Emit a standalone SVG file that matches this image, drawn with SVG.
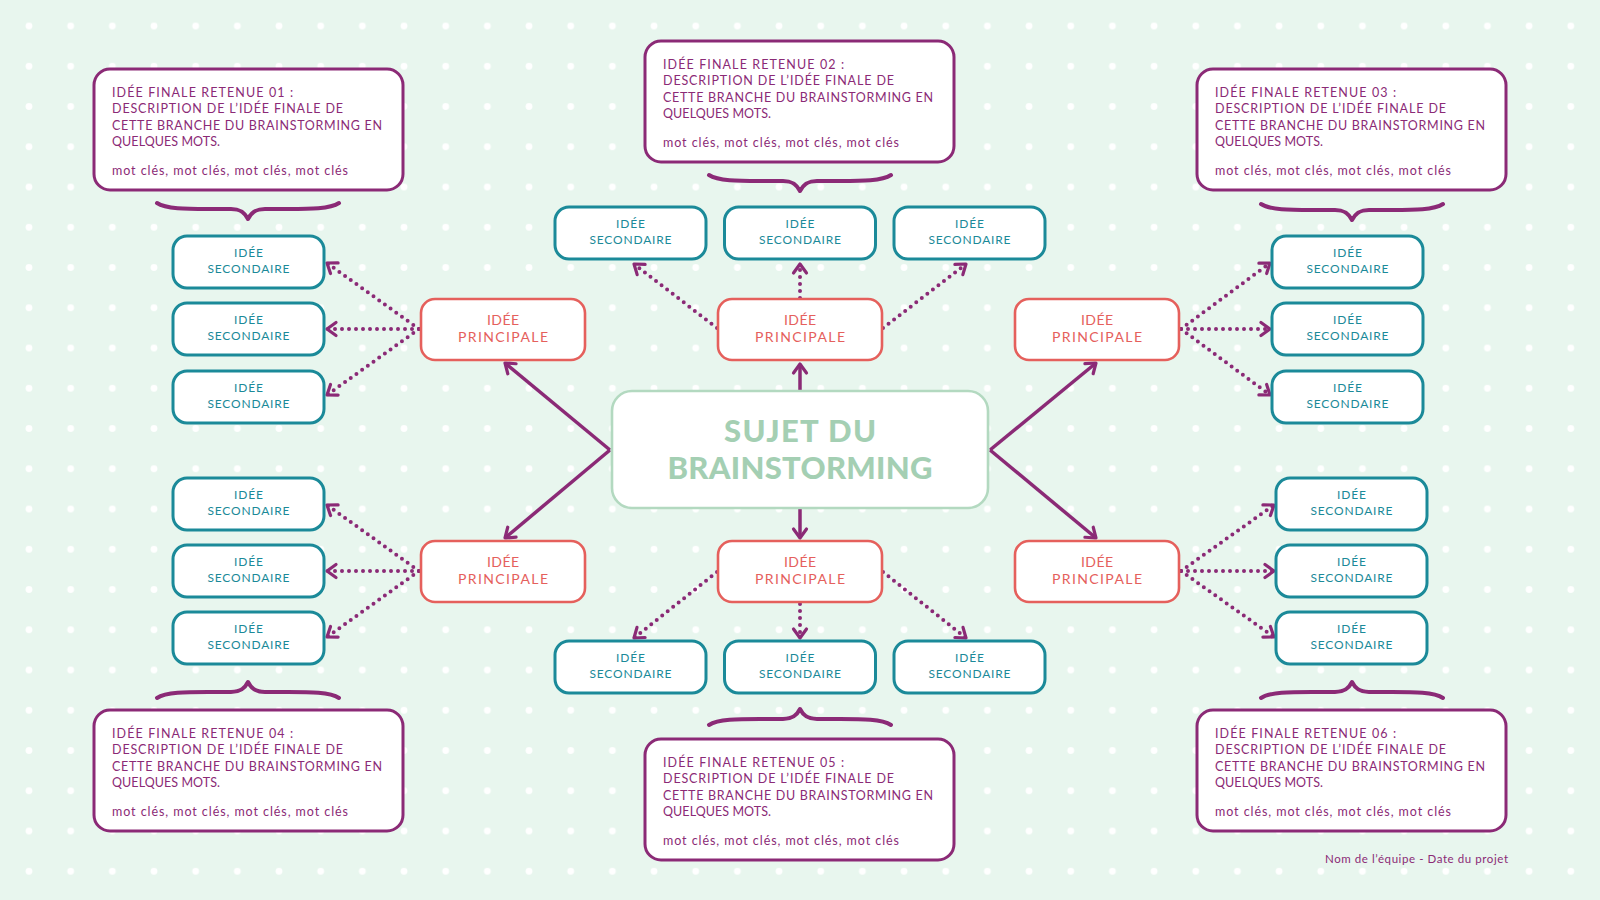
<svg xmlns="http://www.w3.org/2000/svg" width="1600" height="900" viewBox="0 0 1600 900">
<defs>
<pattern id="dots" x="8.2" y="5.9" width="41.67" height="40.25" patternUnits="userSpaceOnUse">
<circle cx="20.8" cy="20.1" r="3.4" fill="#ffffff"/>
</pattern>
<marker id="arr" viewBox="-12 -9 15 18" markerWidth="15" markerHeight="18" refX="0" refY="0" orient="auto" markerUnits="userSpaceOnUse">
<path d="M-9,-6.5 L0,0 L-9,6.5" fill="none" stroke="#8b2a76" stroke-width="3.2" stroke-linecap="round" stroke-linejoin="round"/>
</marker>
<path id="brace" d="M-91,0 C-82,6 -62,6 -40,6 L-17,6 C-7,6 -3,10 0,16 C3,10 7,6 17,6 L40,6 C62,6 82,6 91,0"/>
</defs>
<style>
.final rect{fill:#ffffff;stroke:#8b2a76;stroke-width:3}
.final text{font-family:"Lato","Liberation Sans",sans-serif;font-size:12.5px;fill:#8b2a76}
.sec rect{fill:#ffffff;stroke:#1b8a99;stroke-width:3}
.sec text{font-family:"Lato","Liberation Sans",sans-serif;font-size:12px;fill:#1b8a99;text-anchor:middle}
.pri rect{fill:#ffffff;stroke:#e5605c;stroke-width:2.6}
.pri text{font-family:"Lato","Liberation Sans",sans-serif;font-size:14px;fill:#e5605c;text-anchor:middle}
.solid{stroke:#8b2a76;stroke-width:3.5;fill:none;marker-end:url(#arr)}
.dot{stroke:#8b2a76;stroke-width:4;fill:none;stroke-dasharray:0 7;stroke-linecap:round;marker-end:url(#arr)}
.brace{fill:none;stroke:#8b2a76;stroke-width:4;stroke-linecap:round;stroke-linejoin:round}
</style>
<rect width="1600" height="900" fill="#e8f6ee"/>
<rect width="1600" height="900" fill="url(#dots)"/>

<g id="connectors">
<line class="solid" x1="610" y1="450" x2="505" y2="363"/>
<line class="solid" x1="610" y1="450" x2="505" y2="538"/>
<line class="solid" x1="990" y1="450" x2="1096" y2="363"/>
<line class="solid" x1="990" y1="450" x2="1096" y2="538"/>
<line class="solid" x1="800" y1="391" x2="800" y2="364"/>
<line class="solid" x1="800" y1="508" x2="800" y2="538"/>
<line class="dot" x1="419" y1="329" x2="327" y2="263"/>
<line class="dot" x1="419" y1="329" x2="327" y2="329"/>
<line class="dot" x1="419" y1="329" x2="327" y2="395"/>
<line class="dot" x1="419" y1="571" x2="327" y2="505"/>
<line class="dot" x1="419" y1="571" x2="327" y2="571"/>
<line class="dot" x1="419" y1="571" x2="327" y2="637"/>
<line class="dot" x1="717" y1="328" x2="634" y2="264"/>
<line class="dot" x1="800" y1="298" x2="800" y2="264"/>
<line class="dot" x1="883" y1="328" x2="966" y2="264"/>
<line class="dot" x1="717" y1="572" x2="634" y2="638"/>
<line class="dot" x1="800" y1="604" x2="800" y2="638"/>
<line class="dot" x1="883" y1="572" x2="966" y2="638"/>
<line class="dot" x1="1181" y1="329" x2="1270" y2="263"/>
<line class="dot" x1="1181" y1="329" x2="1270" y2="329"/>
<line class="dot" x1="1181" y1="329" x2="1270" y2="395"/>
<line class="dot" x1="1181" y1="571" x2="1274" y2="505"/>
<line class="dot" x1="1181" y1="571" x2="1274" y2="571"/>
<line class="dot" x1="1181" y1="571" x2="1274" y2="637"/>
</g>

<g id="braces" class="brace">
<use href="#brace" transform="translate(248,203)"/>
<use href="#brace" transform="translate(800,175)"/>
<use href="#brace" transform="translate(1352,204)"/>
<use href="#brace" transform="translate(248,698) scale(1,-1)"/>
<use href="#brace" transform="translate(800,725) scale(1,-1)"/>
<use href="#brace" transform="translate(1352,698) scale(1,-1)"/>
</g>

<g id="center">
<rect x="612" y="391" width="376" height="117" rx="20" fill="#ffffff" stroke="#b3d9c0" stroke-width="2.6"/>
<text x="800" y="442" text-anchor="middle" font-family="Lato, 'Liberation Sans', sans-serif" font-weight="900" font-size="31" fill="#a4cfb3" textLength="152" lengthAdjust="spacing">SUJET DU</text>
<text x="800" y="479" text-anchor="middle" font-family="Lato, 'Liberation Sans', sans-serif" font-weight="900" font-size="31" fill="#a4cfb3" textLength="265" lengthAdjust="spacing">BRAINSTORMING</text>
</g>

<g id="p1" class="pri"><rect x="421" y="299" width="164" height="61" rx="14"/><text x="503" y="325" textLength="32">IDÉE</text><text x="503" y="342" textLength="90">PRINCIPALE</text></g>
<g id="p2" class="pri"><rect x="718" y="299" width="164" height="61" rx="14"/><text x="800" y="325" textLength="32">IDÉE</text><text x="800" y="342" textLength="90">PRINCIPALE</text></g>
<g id="p3" class="pri"><rect x="1015" y="299" width="164" height="61" rx="14"/><text x="1097" y="325" textLength="32">IDÉE</text><text x="1097" y="342" textLength="90">PRINCIPALE</text></g>
<g id="p4" class="pri"><rect x="421" y="541" width="164" height="61" rx="14"/><text x="503" y="567" textLength="32">IDÉE</text><text x="503" y="584" textLength="90">PRINCIPALE</text></g>
<g id="p5" class="pri"><rect x="718" y="541" width="164" height="61" rx="14"/><text x="800" y="567" textLength="32">IDÉE</text><text x="800" y="584" textLength="90">PRINCIPALE</text></g>
<g id="p6" class="pri"><rect x="1015" y="541" width="164" height="61" rx="14"/><text x="1097" y="567" textLength="32">IDÉE</text><text x="1097" y="584" textLength="90">PRINCIPALE</text></g>

<g id="s1" class="sec"><rect x="173" y="236" width="151" height="52" rx="14"/><text x="248.5" y="257" textLength="29">IDÉE</text><text x="248.5" y="273" textLength="82">SECONDAIRE</text></g>
<g id="s2" class="sec"><rect x="173" y="303" width="151" height="52" rx="14"/><text x="248.5" y="324" textLength="29">IDÉE</text><text x="248.5" y="340" textLength="82">SECONDAIRE</text></g>
<g id="s3" class="sec"><rect x="173" y="371" width="151" height="52" rx="14"/><text x="248.5" y="392" textLength="29">IDÉE</text><text x="248.5" y="408" textLength="82">SECONDAIRE</text></g>
<g id="s4" class="sec"><rect x="173" y="478" width="151" height="52" rx="14"/><text x="248.5" y="499" textLength="29">IDÉE</text><text x="248.5" y="515" textLength="82">SECONDAIRE</text></g>
<g id="s5" class="sec"><rect x="173" y="545" width="151" height="52" rx="14"/><text x="248.5" y="566" textLength="29">IDÉE</text><text x="248.5" y="582" textLength="82">SECONDAIRE</text></g>
<g id="s6" class="sec"><rect x="173" y="612" width="151" height="52" rx="14"/><text x="248.5" y="633" textLength="29">IDÉE</text><text x="248.5" y="649" textLength="82">SECONDAIRE</text></g>
<g id="s7" class="sec"><rect x="555" y="207" width="151" height="52" rx="14"/><text x="630.5" y="228" textLength="29">IDÉE</text><text x="630.5" y="244" textLength="82">SECONDAIRE</text></g>
<g id="s8" class="sec"><rect x="724.5" y="207" width="151" height="52" rx="14"/><text x="800" y="228" textLength="29">IDÉE</text><text x="800" y="244" textLength="82">SECONDAIRE</text></g>
<g id="s9" class="sec"><rect x="894" y="207" width="151" height="52" rx="14"/><text x="969.5" y="228" textLength="29">IDÉE</text><text x="969.5" y="244" textLength="82">SECONDAIRE</text></g>
<g id="s10" class="sec"><rect x="555" y="641" width="151" height="52" rx="14"/><text x="630.5" y="662" textLength="29">IDÉE</text><text x="630.5" y="678" textLength="82">SECONDAIRE</text></g>
<g id="s11" class="sec"><rect x="724.5" y="641" width="151" height="52" rx="14"/><text x="800" y="662" textLength="29">IDÉE</text><text x="800" y="678" textLength="82">SECONDAIRE</text></g>
<g id="s12" class="sec"><rect x="894" y="641" width="151" height="52" rx="14"/><text x="969.5" y="662" textLength="29">IDÉE</text><text x="969.5" y="678" textLength="82">SECONDAIRE</text></g>
<g id="s13" class="sec"><rect x="1272" y="236" width="151" height="52" rx="14"/><text x="1347.5" y="257" textLength="29">IDÉE</text><text x="1347.5" y="273" textLength="82">SECONDAIRE</text></g>
<g id="s14" class="sec"><rect x="1272" y="303" width="151" height="52" rx="14"/><text x="1347.5" y="324" textLength="29">IDÉE</text><text x="1347.5" y="340" textLength="82">SECONDAIRE</text></g>
<g id="s15" class="sec"><rect x="1272" y="371" width="151" height="52" rx="14"/><text x="1347.5" y="392" textLength="29">IDÉE</text><text x="1347.5" y="408" textLength="82">SECONDAIRE</text></g>
<g id="s16" class="sec"><rect x="1276" y="478" width="151" height="52" rx="14"/><text x="1351.5" y="499" textLength="29">IDÉE</text><text x="1351.5" y="515" textLength="82">SECONDAIRE</text></g>
<g id="s17" class="sec"><rect x="1276" y="545" width="151" height="52" rx="14"/><text x="1351.5" y="566" textLength="29">IDÉE</text><text x="1351.5" y="582" textLength="82">SECONDAIRE</text></g>
<g id="s18" class="sec"><rect x="1276" y="612" width="151" height="52" rx="14"/><text x="1351.5" y="633" textLength="29">IDÉE</text><text x="1351.5" y="649" textLength="82">SECONDAIRE</text></g>

<g id="f1" class="final"><rect x="94" y="69" width="309" height="121" rx="16"/>
<text x="112" y="97" textLength="181">IDÉE FINALE RETENUE 01 :</text>
<text x="112" y="113" textLength="231">DESCRIPTION DE L’IDÉE FINALE DE</text>
<text x="112" y="130" textLength="270">CETTE BRANCHE DU BRAINSTORMING EN</text>
<text x="112" y="146" textLength="108">QUELQUES MOTS.</text>
<text x="112" y="175" textLength="236">mot clés, mot clés, mot clés, mot clés</text></g>
<g id="f2" class="final"><rect x="645" y="41" width="309" height="121" rx="16"/>
<text x="663" y="69" textLength="181">IDÉE FINALE RETENUE 02 :</text>
<text x="663" y="85" textLength="231">DESCRIPTION DE L’IDÉE FINALE DE</text>
<text x="663" y="102" textLength="270">CETTE BRANCHE DU BRAINSTORMING EN</text>
<text x="663" y="118" textLength="108">QUELQUES MOTS.</text>
<text x="663" y="147" textLength="236">mot clés, mot clés, mot clés, mot clés</text></g>
<g id="f3" class="final"><rect x="1197" y="69" width="309" height="121" rx="16"/>
<text x="1215" y="97" textLength="181">IDÉE FINALE RETENUE 03 :</text>
<text x="1215" y="113" textLength="231">DESCRIPTION DE L’IDÉE FINALE DE</text>
<text x="1215" y="130" textLength="270">CETTE BRANCHE DU BRAINSTORMING EN</text>
<text x="1215" y="146" textLength="108">QUELQUES MOTS.</text>
<text x="1215" y="175" textLength="236">mot clés, mot clés, mot clés, mot clés</text></g>
<g id="f4" class="final"><rect x="94" y="710" width="309" height="121" rx="16"/>
<text x="112" y="738" textLength="181">IDÉE FINALE RETENUE 04 :</text>
<text x="112" y="754" textLength="231">DESCRIPTION DE L’IDÉE FINALE DE</text>
<text x="112" y="771" textLength="270">CETTE BRANCHE DU BRAINSTORMING EN</text>
<text x="112" y="787" textLength="108">QUELQUES MOTS.</text>
<text x="112" y="816" textLength="236">mot clés, mot clés, mot clés, mot clés</text></g>
<g id="f5" class="final"><rect x="645" y="739" width="309" height="121" rx="16"/>
<text x="663" y="767" textLength="181">IDÉE FINALE RETENUE 05 :</text>
<text x="663" y="783" textLength="231">DESCRIPTION DE L’IDÉE FINALE DE</text>
<text x="663" y="800" textLength="270">CETTE BRANCHE DU BRAINSTORMING EN</text>
<text x="663" y="816" textLength="108">QUELQUES MOTS.</text>
<text x="663" y="845" textLength="236">mot clés, mot clés, mot clés, mot clés</text></g>
<g id="f6" class="final"><rect x="1197" y="710" width="309" height="121" rx="16"/>
<text x="1215" y="738" textLength="181">IDÉE FINALE RETENUE 06 :</text>
<text x="1215" y="754" textLength="231">DESCRIPTION DE L’IDÉE FINALE DE</text>
<text x="1215" y="771" textLength="270">CETTE BRANCHE DU BRAINSTORMING EN</text>
<text x="1215" y="787" textLength="108">QUELQUES MOTS.</text>
<text x="1215" y="816" textLength="236">mot clés, mot clés, mot clés, mot clés</text></g>

<text id="footer" x="1508" y="863" text-anchor="end" font-family="Lato, 'Liberation Sans', sans-serif" font-size="11.5" fill="#8b2a76" textLength="183">Nom de l’équipe - Date du projet</text>
</svg>
